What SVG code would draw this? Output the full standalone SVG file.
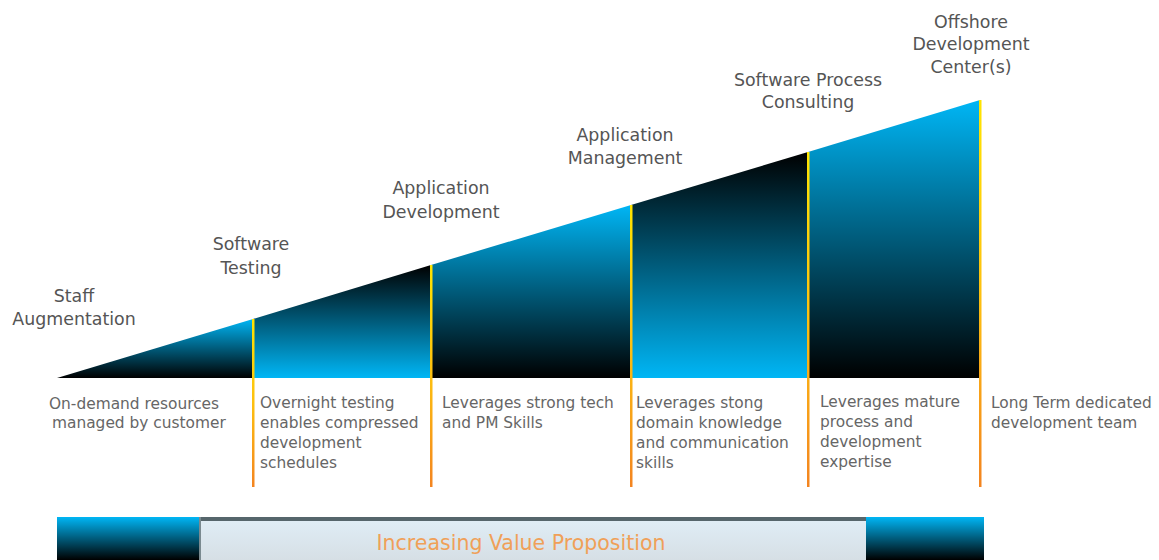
<svg xmlns="http://www.w3.org/2000/svg" width="1159" height="560" viewBox="0 0 1159 560">
<defs>
<linearGradient id="blueDown" x1="0" y1="0" x2="0" y2="1"><stop offset="0" stop-color="#00b6f5"/><stop offset="1" stop-color="#000000"/></linearGradient>
<linearGradient id="blueUp" x1="0" y1="0" x2="0" y2="1"><stop offset="0" stop-color="#000000"/><stop offset="1" stop-color="#00b6f5"/></linearGradient>
<linearGradient id="sep" x1="0" y1="0" x2="0" y2="1"><stop offset="0" stop-color="#ffe400"/><stop offset="0.5" stop-color="#fdc010"/><stop offset="1" stop-color="#f38420"/></linearGradient>
<linearGradient id="mid" x1="0" y1="0" x2="0" y2="1"><stop offset="0" stop-color="#e0eef7"/><stop offset="1" stop-color="#d6dfe5"/></linearGradient>
<style>
.lbl{font-family:"DejaVu Sans",sans-serif;font-size:17.4px;fill:#555555;text-anchor:middle}
.desc{font-family:"DejaVu Sans",sans-serif;font-size:15.4px;fill:#666666}
.bar{font-family:"DejaVu Sans",sans-serif;font-size:20.5px;fill:#f0a058;text-anchor:middle}
</style>
</defs>
<rect width="1159" height="560" fill="#ffffff"/>
<g id="segments">
<polygon points="57,378 253,319 253,378" fill="url(#blueDown)"/>
<polygon points="253,319 431,265 431,378 253,378" fill="url(#blueUp)"/>
<polygon points="431,265 631,205 631,378 431,378" fill="url(#blueDown)"/>
<polygon points="631,205 808,152 808,378 631,378" fill="url(#blueUp)"/>
<polygon points="808,152 980,100 980,378 808,378" fill="url(#blueDown)"/>
</g>
<g id="connectors">
<rect x="252" y="319" width="2.5" height="168" fill="url(#sep)"/>
<rect x="430" y="265" width="2.5" height="222" fill="url(#sep)"/>
<rect x="630" y="205" width="2.5" height="282" fill="url(#sep)"/>
<rect x="807" y="152" width="2.5" height="335" fill="url(#sep)"/>
<rect x="979" y="100" width="2.5" height="387" fill="url(#sep)"/>
</g>
<g id="node-staff">
<text class="lbl" x="74" y="302">Staff</text>
<text class="lbl" x="74" y="325">Augmentation</text>
<text class="desc" x="49" y="409">On-demand resources</text>
<text class="desc" x="52" y="428">managed by customer</text>
</g>
<g id="node-testing">
<text class="lbl" x="251" y="250">Software</text>
<text class="lbl" x="251" y="274">Testing</text>
<text class="desc" x="260" y="408">Overnight testing</text>
<text class="desc" x="260" y="428">enables compressed</text>
<text class="desc" x="260" y="448">development</text>
<text class="desc" x="260" y="468">schedules</text>
</g>
<g id="node-appdev">
<text class="lbl" x="441" y="194">Application</text>
<text class="lbl" x="441" y="218">Development</text>
<text class="desc" x="442" y="408">Leverages strong tech</text>
<text class="desc" x="442" y="428">and PM Skills</text>
</g>
<g id="node-appmgmt">
<text class="lbl" x="625" y="141">Application</text>
<text class="lbl" x="625" y="164">Management</text>
<text class="desc" x="636" y="408">Leverages stong</text>
<text class="desc" x="636" y="428">domain knowledge</text>
<text class="desc" x="636" y="448">and communication</text>
<text class="desc" x="636" y="468">skills</text>
</g>
<g id="node-process">
<text class="lbl" x="808" y="86">Software Process</text>
<text class="lbl" x="808" y="108">Consulting</text>
<text class="desc" x="820" y="407">Leverages mature</text>
<text class="desc" x="820" y="427">process and</text>
<text class="desc" x="820" y="447">development</text>
<text class="desc" x="820" y="467">expertise</text>
</g>
<g id="node-offshore">
<text class="lbl" x="971" y="28">Offshore</text>
<text class="lbl" x="971" y="50">Development</text>
<text class="lbl" x="971" y="73">Center(s)</text>
<text class="desc" x="991" y="408">Long Term dedicated</text>
<text class="desc" x="991" y="428">development team</text>
</g>
<g id="value-bar">
<rect x="57" y="517" width="142" height="43" fill="url(#blueDown)"/>
<rect x="866" y="517" width="118" height="43" fill="url(#blueDown)"/>
<rect x="199" y="517" width="667" height="43" fill="url(#mid)"/>
<rect x="199" y="517" width="667" height="4" fill="#56666c"/>
<rect x="199" y="517" width="2" height="43" fill="#7a8a90"/>
<text class="bar" x="521" y="550">Increasing Value Proposition</text>
</g>
</svg>
